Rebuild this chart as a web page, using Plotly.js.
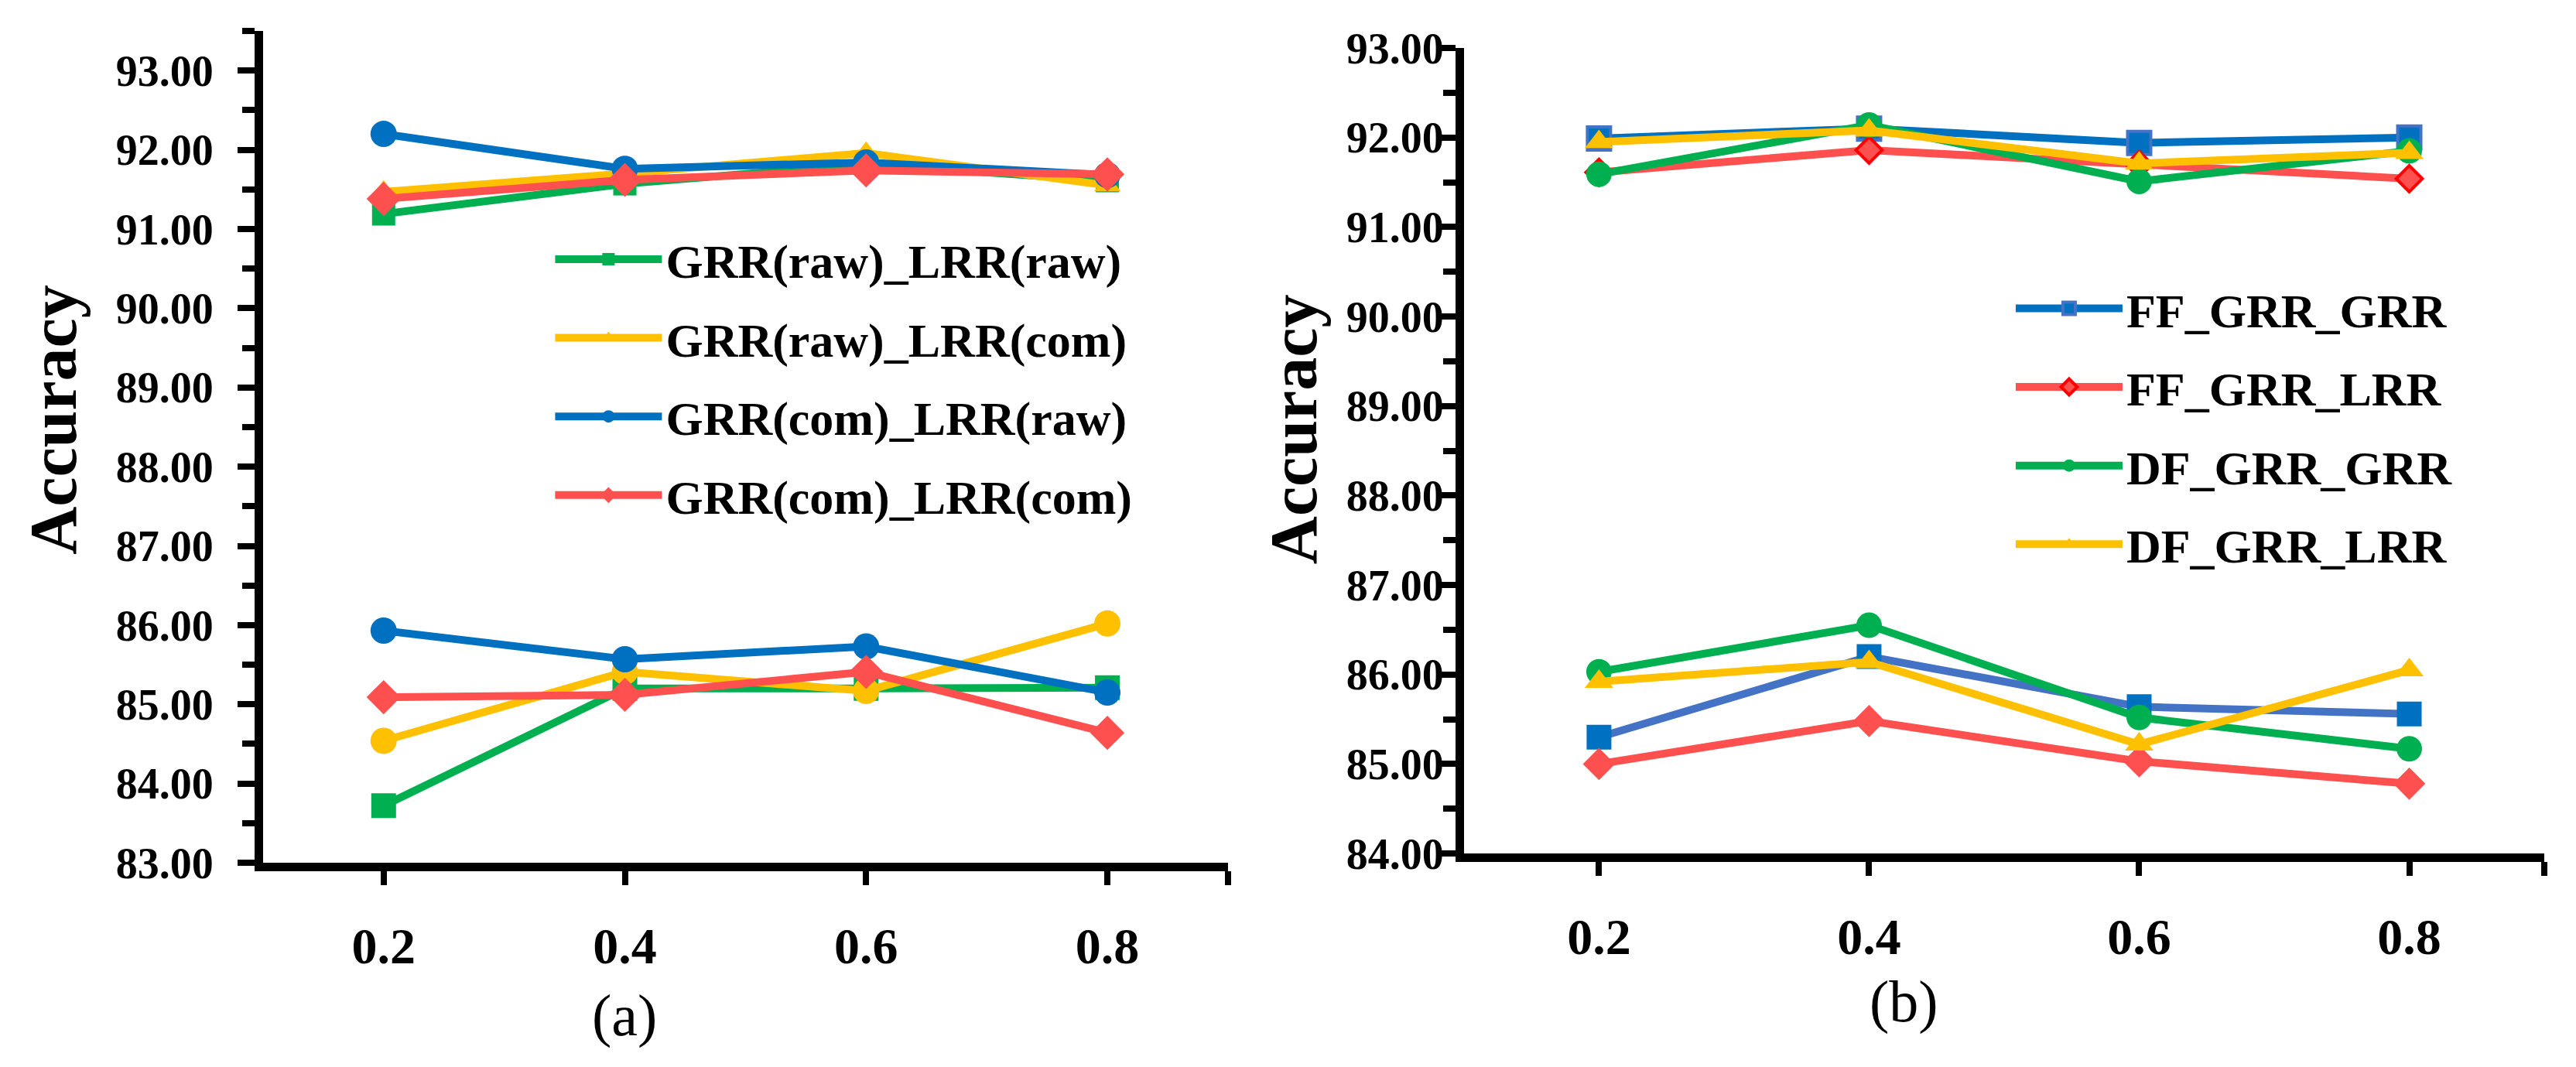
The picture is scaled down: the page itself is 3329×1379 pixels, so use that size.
<!DOCTYPE html>
<html>
<head>
<meta charset="utf-8">
<script src="https://cdn.plot.ly/plotly-3.0.1.min.js"></script>
<style>
  html, body { margin: 0; padding: 0; background: #fff; }
  #chart { width: 3329px; height: 1379px; }
</style>
</head>
<body>
<div id="chart"></div>
<script>
// shared x values (ratio) and tick labels
const ratios = [0.2, 0.4, 0.6, 0.8];
const xTickVals = [0.2, 0.4, 0.6, 0.8, 0.9];
const xTickText = ['0.2', '0.4', '0.6', '0.8', ''];

// panel (a) - upper and lower groups of each series
const rawRawHi = [91.19, 91.57, 91.82, 91.61];
const rawRawLo = [83.72, 85.20, 85.20, 85.21];
const rawComHi = [91.47, 91.70, 91.96, 91.55];
const rawComLo = [84.54, 85.41, 85.17, 86.02];
const comRawHi = [92.20, 91.76, 91.84, 91.68];
const comRawLo = [85.93, 85.57, 85.73, 85.15];
const comComHi = [91.38, 91.62, 91.74, 91.69];
const comComLo = [85.09, 85.12, 85.41, 84.64];
const namesA = ['GRR(raw)_LRR(raw)', 'GRR(raw)_LRR(com)', 'GRR(com)_LRR(raw)', 'GRR(com)_LRR(com)'];

// panel (b)
const ffGrrGrrHi = [91.99, 92.10, 91.94, 92.00];
const ffGrrGrrLo = [85.30, 86.20, 85.64, 85.56];
const ffGrrLrrHi = [91.61, 91.86, 91.70, 91.54];
const ffGrrLrrLo = [85.00, 85.48, 85.03, 84.78];
const dfGrrGrrHi = [91.59, 92.14, 91.51, 91.85];
const dfGrrGrrLo = [86.03, 86.55, 85.52, 85.17];
const dfGrrLrrHi = [91.95, 92.08, 91.71, 91.83];
const dfGrrLrrLo = [85.92, 86.14, 85.22, 86.05];
const namesB = ['FF_GRR_GRR', 'FF_GRR_LRR', 'DF_GRR_GRR', 'DF_GRR_LRR'];

const GREEN = '#00B050', YELLOW = '#FFC000', BLUE = '#0070C0', RED = '#FF5050';
const LIGHTBLUE = '#4472C4', BRIGHTRED = '#FF0000';
const FONT = 'Liberation Serif';

/**
* one line trace
*/
const line = ( opts ) => ({
	x: ratios,
	y: opts.y,
	name: opts.name,
	legendgroup: opts.group,
	showlegend: !!opts.legend,
	legend: opts.legendId,
	xaxis: opts.xaxis,
	yaxis: opts.yaxis,
	type: 'scatter',
	mode: 'lines+markers',
	line: { color: opts.lineColor || opts.color, width: 10 },
	marker: {
		symbol: opts.symbol,
		size: opts.size || 30,
		color: opts.color,
		line: { color: opts.edge || opts.color, width: opts.edge ? 4 : 0 }
	},
	cliponaxis: false
});

const data = [
	// (a)
	line({ y: rawRawHi, name: namesA[0], group: 'a0', legend: true, legendId: 'legend', xaxis: 'x', yaxis: 'y', color: GREEN, symbol: 'square', size: 30 }),
	line({ y: rawRawLo, name: namesA[0], group: 'a0', legendId: 'legend', xaxis: 'x', yaxis: 'y', color: GREEN, symbol: 'square', size: 32 }),
	line({ y: rawComHi, name: namesA[1], group: 'a1', legend: true, legendId: 'legend', xaxis: 'x', yaxis: 'y', color: YELLOW, symbol: 'triangle-up', size: 30 }),
	line({ y: rawComLo, name: namesA[1], group: 'a1', legendId: 'legend', xaxis: 'x', yaxis: 'y', color: YELLOW, symbol: 'circle', size: 34 }),
	line({ y: comRawHi, name: namesA[2], group: 'a2', legend: true, legendId: 'legend', xaxis: 'x', yaxis: 'y', color: BLUE, symbol: 'circle', size: 34 }),
	line({ y: comRawLo, name: namesA[2], group: 'a2', legendId: 'legend', xaxis: 'x', yaxis: 'y', color: BLUE, symbol: 'circle', size: 34 }),
	line({ y: comComHi, name: namesA[3], group: 'a3', legend: true, legendId: 'legend', xaxis: 'x', yaxis: 'y', color: RED, symbol: 'diamond', size: 34 }),
	line({ y: comComLo, name: namesA[3], group: 'a3', legendId: 'legend', xaxis: 'x', yaxis: 'y', color: RED, symbol: 'diamond', size: 34 }),
	// (b)
	line({ y: ffGrrGrrHi, name: namesB[0], group: 'b0', legend: true, legendId: 'legend2', xaxis: 'x2', yaxis: 'y2', color: BLUE, edge: LIGHTBLUE, symbol: 'square', size: 30 }),
	line({ y: ffGrrGrrLo, name: namesB[0], group: 'b0', legendId: 'legend2', xaxis: 'x2', yaxis: 'y2', color: BLUE, lineColor: LIGHTBLUE, symbol: 'square', size: 32 }),
	line({ y: ffGrrLrrHi, name: namesB[1], group: 'b1', legend: true, legendId: 'legend2', xaxis: 'x2', yaxis: 'y2', color: RED, edge: BRIGHTRED, symbol: 'diamond', size: 26 }),
	line({ y: ffGrrLrrLo, name: namesB[1], group: 'b1', legendId: 'legend2', xaxis: 'x2', yaxis: 'y2', color: RED, symbol: 'diamond', size: 32 }),
	line({ y: dfGrrGrrHi, name: namesB[2], group: 'b2', legend: true, legendId: 'legend2', xaxis: 'x2', yaxis: 'y2', color: GREEN, symbol: 'circle', size: 33 }),
	line({ y: dfGrrGrrLo, name: namesB[2], group: 'b2', legendId: 'legend2', xaxis: 'x2', yaxis: 'y2', color: GREEN, symbol: 'circle', size: 33 }),
	line({ y: dfGrrLrrHi, name: namesB[3], group: 'b3', legend: true, legendId: 'legend2', xaxis: 'x2', yaxis: 'y2', color: YELLOW, symbol: 'triangle-up', size: 32 }),
	line({ y: dfGrrLrrLo, name: namesB[3], group: 'b3', legendId: 'legend2', xaxis: 'x2', yaxis: 'y2', color: YELLOW, symbol: 'triangle-up', size: 32 })
];

// axis templates
const xAxis = ( domain, anchor ) => ({
	domain, anchor,
	range: [0.1, 0.9],
	tickvals: xTickVals,
	ticktext: xTickText,
	showline: true, linewidth: 11, linecolor: '#000',
	ticks: 'outside', ticklen: 18, tickwidth: 8, tickcolor: '#000',
	ticklabelstandoff: 22,
	showgrid: false, zeroline: false,
	tickfont: { family: FONT, size: 66, color: '#000', weight: 'bold' },
	fixedrange: true
});

const yAxis = ( domain, anchor, range, standoff ) => ({
	domain, anchor, range,
	dtick: 1, tick0: 83,
	tickformat: '.2f',
	showline: true, linewidth: 11, linecolor: '#000',
	ticks: 'outside', ticklen: 22, tickwidth: 8, tickcolor: '#000',
	minor: { dtick: 0.5, ticks: 'outside', ticklen: 16, tickwidth: 8, tickcolor: '#000', showgrid: false },
	ticklabelstandoff: standoff,
	showgrid: false, zeroline: false,
	tickfont: { family: FONT, size: 56, color: '#000', weight: 'bold' },
	fixedrange: true
});

const legendStyle = ( x, y ) => ({
	x, y, xanchor: 'left', yanchor: 'top',
	bgcolor: 'rgba(0,0,0,0)',
	font: { family: FONT, size: 62, color: '#000', weight: 'bold' },
	itemwidth: 138,
	tracegroupgap: 18,
	traceorder: 'grouped'
});

const annoText = ( text, x, y, size, bold, angle ) => ({
	text, x, y, xref: 'paper', yref: 'paper',
	xanchor: 'center', yanchor: 'middle',
	showarrow: false,
	textangle: angle || 0,
	font: { family: FONT, size, color: '#000', weight: bold ? 'bold' : 'normal' }
});

const layout = {
	width: 3329,
	height: 1379,
	margin: { l: 0, r: 0, t: 0, b: 0 },
	paper_bgcolor: '#fff',
	plot_bgcolor: '#fff',
	xaxis: xAxis([0.1021, 0.4767], 'y'),
	yaxis: yAxis([0.1914, 0.9710], 'x', [83, 93.5], 20),
	xaxis2: xAxis([0.5683, 0.9877], 'y2'),
	yaxis2: yAxis([0.2001, 0.9550], 'x2', [84, 93], -18),
	legend: legendStyle(0.214, 0.791),
	legend2: legendStyle(0.781, 0.745),
	annotations: [
		annoText('Accuracy', 0.0207, 0.607, 86, true, -90),
		annoText('Accuracy', 0.5025, 0.598, 86, true, -90),
		annoText('(a)', 0.2424, 0.048, 76, false),
		annoText('(b)', 0.7390, 0.061, 76, false)
	]
};

Plotly.newPlot('chart', data, layout, { displayModeBar: false, staticPlot: true });
</script>
</body>
</html>
